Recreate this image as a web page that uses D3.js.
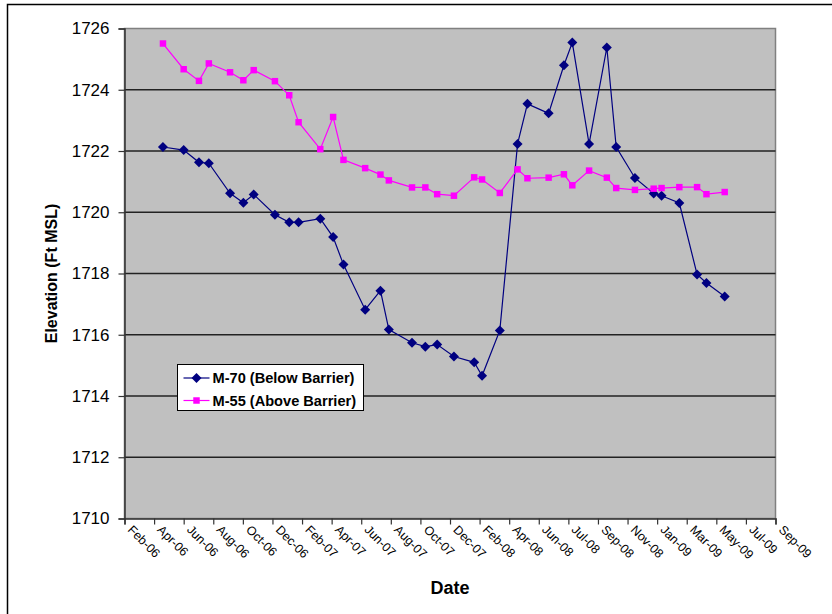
<!DOCTYPE html>
<html>
<head>
<meta charset="utf-8">
<script src="https://cdn.jsdelivr.net/npm/d3@7"></script>
<style>
  body { margin: 0; background: #fff; }
  svg { display: block; font-family: "Liberation Sans", Arial, sans-serif; }
</style>
</head>
<body>
<div class="chart"></div>
<script>
// sample dates (shared by both wells)
var dates = [
  "2006-05-01", "2006-06-12", "2006-07-13", "2006-08-02", "2006-09-14", "2006-10-11",
  "2006-11-01", "2006-12-14", "2007-01-12", "2007-01-31", "2007-03-16", "2007-04-11",
  "2007-05-02", "2007-06-15", "2007-07-16", "2007-08-02", "2007-09-18", "2007-10-15",
  "2007-11-08", "2007-12-12", "2008-01-22", "2008-02-07", "2008-03-14", "2008-04-19",
  "2008-05-09", "2008-06-21", "2008-07-22", "2008-08-08", "2008-09-11", "2008-10-17",
  "2008-11-05", "2008-12-13", "2009-01-20", "2009-02-05", "2009-03-13", "2009-04-18",
  "2009-05-07", "2009-06-13"
];

var m70 = [
  1722.13, 1722.03, 1721.63, 1721.60, 1720.62, 1720.31, 1720.58, 1719.92, 1719.67, 1719.67,
  1719.79, 1719.19, 1718.29, 1716.82, 1717.44, 1716.17, 1715.74, 1715.61, 1715.68, 1715.29,
  1715.10, 1714.66, 1716.14, 1722.23, 1723.54, 1723.23, 1724.80, 1725.54, 1722.23, 1725.38,
  1722.13, 1721.12, 1720.61, 1720.54, 1720.30, 1717.97, 1717.69, 1717.25
];

var m55 = [
  1725.51, 1724.67, 1724.29, 1724.86, 1724.57, 1724.31, 1724.64, 1724.28, 1723.82, 1722.94,
  1722.06, 1723.11, 1721.71, 1721.44, 1721.23, 1721.04, 1720.81, 1720.81, 1720.59, 1720.54,
  1721.14, 1721.07, 1720.63, 1721.40, 1721.11, 1721.13, 1721.24, 1720.88, 1721.36, 1721.13,
  1720.79, 1720.73, 1720.77, 1720.79, 1720.82, 1720.82, 1720.59, 1720.66
];

var seriesNames = ["M-70 (Below Barrier)", "M-55 (Above Barrier)"];
var seriesColors = ["#000080", "#ff00ff"];

var xStart = "2006-02-12", xEnd = "2009-09-24", tickDays = 60;
var yTicks = [1710, 1712, 1714, 1716, 1718, 1720, 1722, 1724, 1726];

var width = 832, height = 614;
var plot = {left: 124.5, top: 28.5, right: 775.5, bottom: 518.5};
var parse = d3.timeParse("%Y-%m-%d");
var FONT = "'Liberation Sans', Arial, sans-serif";

var x = d3.scaleTime()
    .domain([parse(xStart), parse(xEnd)])
    .range([plot.left, plot.right]);
var y = d3.scaleLinear()
    .domain([1710, 1726])
    .range([plot.bottom, plot.top]);

function build_svg(c){
    return c.append("svg").attr("width", width).attr("height", height);
}

// diamond = square turned 45 degrees, like the Excel marker
function marker(k){
    return k === 0
        ? {d: d3.symbol().type(d3.symbolSquare).size(50)(), rot: " rotate(45)"}
        : {d: d3.symbol().type(d3.symbolSquare).size(42)(), rot: ""};
}

function build_frame(s){
    // outer chart border (only top/left visible in the shot)
    s.append("rect")
        .attr("x", 7.5).attr("y", 4.5)
        .attr("width", 840).attr("height", 640)
        .attr("fill", "#fff")
        .attr("stroke", "#000").attr("stroke-width", 1.5);

    s.append("rect")
        .attr("x", plot.left).attr("y", plot.top)
        .attr("width", plot.right - plot.left)
        .attr("height", plot.bottom - plot.top)
        .attr("fill", "#c0c0c0")
        .attr("stroke", "#808080").attr("stroke-width", 1.5);
}

function build_axes(s){
    // gridlines
    s.append("g").selectAll("line")
        .data(yTicks.filter(function(d){ return d > 1710 && d < 1726; }))
        .enter().append("line")
        .attr("x1", plot.left).attr("x2", plot.right)
        .attr("y1", function(d){ return y(d); })
        .attr("y2", function(d){ return y(d); })
        .attr("stroke", "#222").attr("stroke-width", 1.3);

    var yAxis = d3.axisLeft(y).tickValues(yTicks).tickSize(6).tickPadding(9)
        .tickFormat(d3.format("d"));
    var gy = s.append("g")
        .attr("transform", "translate(" + plot.left + ",0)")
        .call(yAxis);
    gy.attr("font-family", FONT);
    gy.select(".domain").attr("stroke", "#333").attr("stroke-width", 1.5);
    gy.selectAll(".tick line").attr("stroke", "#333").attr("stroke-width", 1.2);
    gy.selectAll("text").attr("font-size", 17).attr("fill", "#000");

    var xt = d3.timeDay.every(1).range(parse(xStart), d3.timeDay.offset(parse(xEnd), 1))
        .filter(function(d, i){ return i % tickDays === 0; });
    var xAxis = d3.axisBottom(x).tickValues(xt).tickSize(6)
        .tickFormat(d3.timeFormat("%b-%y"));
    var gx = s.append("g")
        .attr("transform", "translate(0," + plot.bottom + ")")
        .call(xAxis);
    gx.attr("font-family", FONT);
    gx.select(".domain").attr("stroke", "#333").attr("stroke-width", 1.5);
    gx.selectAll(".tick line").attr("stroke", "#333").attr("stroke-width", 1.2);
    gx.selectAll("text")
        .attr("font-size", 12.5).attr("fill", "#000")
        .attr("text-anchor", "start")
        .attr("dy", null).attr("y", 0)
        .attr("transform", "translate(2,12) rotate(45)");

    s.append("text")
        .attr("x", 450).attr("y", 594)
        .attr("text-anchor", "middle")
        .attr("font-size", 18).attr("font-weight", "bold")
        .text("Date");

    s.append("text")
        .attr("transform", "translate(57," + ((plot.top + plot.bottom) / 2) + ") rotate(-90)")
        .attr("text-anchor", "middle")
        .attr("font-size", 16).attr("font-weight", "bold")
        .text("Elevation (Ft MSL)");
}

function build_series(s){
    var sets = [m70, m55];
    var line = d3.line()
        .x(function(d, i){ return x(parse(dates[i])); })
        .y(function(d){ return y(d); });
    sets.forEach(function(vals, k){
        var g = s.append("g");
        var mk = marker(k);
        g.append("path")
            .attr("d", line(vals))
            .attr("fill", "none")
            .attr("stroke", seriesColors[k]).attr("stroke-width", 1.2);
        g.selectAll("path.pt")
            .data(vals)
            .enter().append("path")
            .attr("class", "pt")
            .attr("d", mk.d)
            .attr("transform", function(d, i){
                return "translate(" + x(parse(dates[i])) + "," + y(d) + ")" + mk.rot;
            })
            .attr("fill", seriesColors[k]);
    });
}

function build_legend(s){
    var lg = s.append("g").attr("transform", "translate(177.5,364.5)");
    lg.append("rect")
        .attr("width", 186).attr("height", 46)
        .attr("fill", "#fff").attr("stroke", "#000").attr("stroke-width", 1);
    seriesNames.forEach(function(name, k){
        var cy = 13.5 + k * 22.5;
        var mk = marker(k);
        lg.append("line")
            .attr("x1", 6).attr("x2", 32).attr("y1", cy).attr("y2", cy)
            .attr("stroke", seriesColors[k]).attr("stroke-width", 1.2);
        lg.append("path")
            .attr("d", mk.d)
            .attr("transform", "translate(19," + cy + ")" + mk.rot)
            .attr("fill", seriesColors[k]);
        lg.append("text")
            .attr("x", 35).attr("y", cy + 5)
            .attr("font-size", 14.6).attr("font-weight", "bold")
            .text(name);
    });
}

function main(){
    var container = d3.select(".chart");
    var svg = build_svg(container);
    build_frame(svg);
    build_axes(svg);
    build_series(svg);
    build_legend(svg);
}

main();
</script>
</body>
</html>
